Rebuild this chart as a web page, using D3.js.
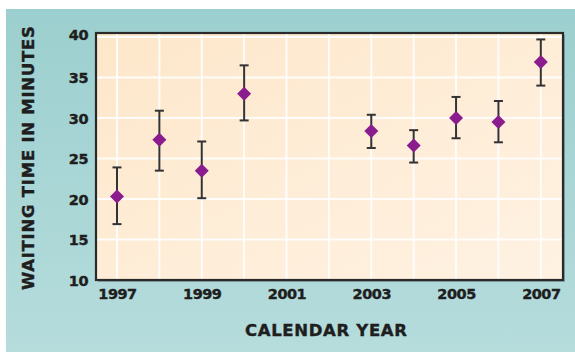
<!DOCTYPE html>
<html><head><meta charset="utf-8">
<script src="https://cdn.jsdelivr.net/npm/d3@7"></script>
<style>html,body{margin:0;padding:0;background:#fff;}svg{display:block;}</style>
</head><body>
<svg id="c" width="575" height="352"></svg>
<script>
const years = [1997, 1998, 1999, 2000, 2003, 2004, 2005, 2006, 2007];
const means = [20.3, 27.3, 23.5, 33.0, 28.4, 26.6, 30.0, 29.5, 36.9];
const upper = [23.9, 30.9, 27.1, 36.5, 30.4, 28.5, 32.6, 32.1, 39.7];
const lower = [16.9, 23.5, 20.1, 29.7, 26.3, 24.5, 27.5, 27.0, 34.0];
const xTicks = [1997, 1999, 2001, 2003, 2005, 2007];
const yTicks = [10, 15, 20, 25, 30, 35, 40];
const xTitle = "CALENDAR YEAR";
const yTitle = "WAITING TIME IN MINUTES";

const svg = d3.select("#c");
const defs = svg.append("defs");
const g1 = defs.append("linearGradient").attr("id","bg").attr("x1",0).attr("y1",0).attr("x2",0).attr("y2",1);
g1.append("stop").attr("offset","0%").attr("stop-color","#9ccfcf");
g1.append("stop").attr("offset","100%").attr("stop-color","#b6dcdc");
const g2 = defs.append("linearGradient").attr("id","pl").attr("x1",0).attr("y1",0).attr("x2",1).attr("y2",1);
g2.append("stop").attr("offset","0%").attr("stop-color","#fde7ca");
g2.append("stop").attr("offset","100%").attr("stop-color","#fff2e3");

svg.append("rect").attr("x",6).attr("y",9).attr("width",569).attr("height",343).attr("fill","url(#bg)");

const L=96, T=33, R=563, B=280;
const x = d3.scaleLinear().domain([1996.5, 2007.5]).range([95.8, 562]);
const y = d3.scaleLinear().domain([10, 40]).range([280, 37]);

// shadow
svg.append("rect").attr("x",L+2).attr("y",T+2).attr("width",R-L).attr("height",B-T).attr("fill","#5a7070").attr("opacity",0.5);
svg.append("rect").attr("x",L).attr("y",T).attr("width",R-L).attr("height",B-T).attr("fill","url(#pl)");

const grid = svg.append("g");
grid.selectAll("line.v").data(d3.range(1997, 2008)).enter().append("line")
  .attr("x1",d=>x(d)).attr("x2",d=>x(d)).attr("y1",T).attr("y2",B)
  .attr("stroke","#ffffff").attr("stroke-width",2).attr("opacity",0.9);
grid.selectAll("line.h").data(yTicks.slice(1)).enter().append("line")
  .attr("x1",L).attr("x2",R).attr("y1",d=>y(d)).attr("y2",d=>y(d))
  .attr("stroke","#ffffff").attr("stroke-width",2).attr("opacity",0.9);

svg.append("rect").attr("x",L).attr("y",T).attr("width",R-L).attr("height",B-T)
  .attr("fill","none").attr("stroke","#2a2a2a").attr("stroke-width",2.2);

const font = "'DejaVu Sans', sans-serif";
// axes
const yAxis = d3.axisLeft(y).tickValues(yTicks).tickSize(0).tickPadding(0);
const ya = svg.append("g").attr("transform",`translate(${L-8},0)`).call(yAxis);
ya.select(".domain").remove();
ya.selectAll("text").attr("font-family",font).attr("font-weight","bold").attr("font-size",14.5)
  .attr("fill","#1e1e1e").attr("dy","0.35em").attr("stroke","#1e1e1e").attr("stroke-width",0.4).style("letter-spacing","-0.5px");
ya.selectAll("text").filter(d=>d===40).attr("dy","0.2em");

const xAxis = d3.axisBottom(x).tickValues(xTicks).tickFormat(d3.format("d")).tickSize(0).tickPadding(0);
const xa = svg.append("g").attr("transform",`translate(0,${B+9})`).call(xAxis);
xa.select(".domain").remove();
xa.selectAll("text").attr("font-family",font).attr("font-weight","bold").attr("font-size",14.5)
  .attr("fill","#1e1e1e").attr("dy","0.71em").attr("stroke","#1e1e1e").attr("stroke-width",0.4).style("letter-spacing","-0.5px");

svg.append("text").attr("x",326).attr("y",336).attr("text-anchor","middle")
  .attr("font-family",font).attr("font-weight","bold").attr("font-size",16.5).attr("fill","#1e1e1e")
  .attr("stroke","#1e1e1e").attr("stroke-width",0.4)
  .attr("textLength",162).attr("lengthAdjust","spacing").text(xTitle);
svg.append("text").attr("transform","translate(34,158) rotate(-90)").attr("text-anchor","middle")
  .attr("font-family",font).attr("font-weight","bold").attr("font-size",16.5).attr("fill","#1e1e1e")
  .attr("stroke","#1e1e1e").attr("stroke-width",0.4)
  .attr("textLength",264).attr("lengthAdjust","spacing").text(yTitle);

// error bars
const data = years.map((yr,i)=>({yr, m:means[i], hi:upper[i], lo:lower[i]}));
const eb = svg.append("g").attr("stroke","#333").attr("stroke-width",2);
eb.selectAll("line.s").data(data).enter().append("line")
  .attr("x1",d=>x(d.yr)).attr("x2",d=>x(d.yr)).attr("y1",d=>y(d.hi)).attr("y2",d=>y(d.lo));
eb.selectAll("line.t").data(data).enter().append("line")
  .attr("x1",d=>x(d.yr)-4.5).attr("x2",d=>x(d.yr)+4.5).attr("y1",d=>y(d.hi)).attr("y2",d=>y(d.hi));
eb.selectAll("line.b").data(data).enter().append("line")
  .attr("x1",d=>x(d.yr)-4.5).attr("x2",d=>x(d.yr)+4.5).attr("y1",d=>y(d.lo)).attr("y2",d=>y(d.lo));

const sym = d3.symbol().type(d3.symbolSquare).size(98);
svg.append("g").selectAll("path").data(data).enter().append("path")
  .attr("d",sym).attr("transform",d=>`translate(${x(d.yr)},${y(d.m)}) rotate(45)`)
  .attr("fill","#8a1c8e");
</script>
</body></html>
